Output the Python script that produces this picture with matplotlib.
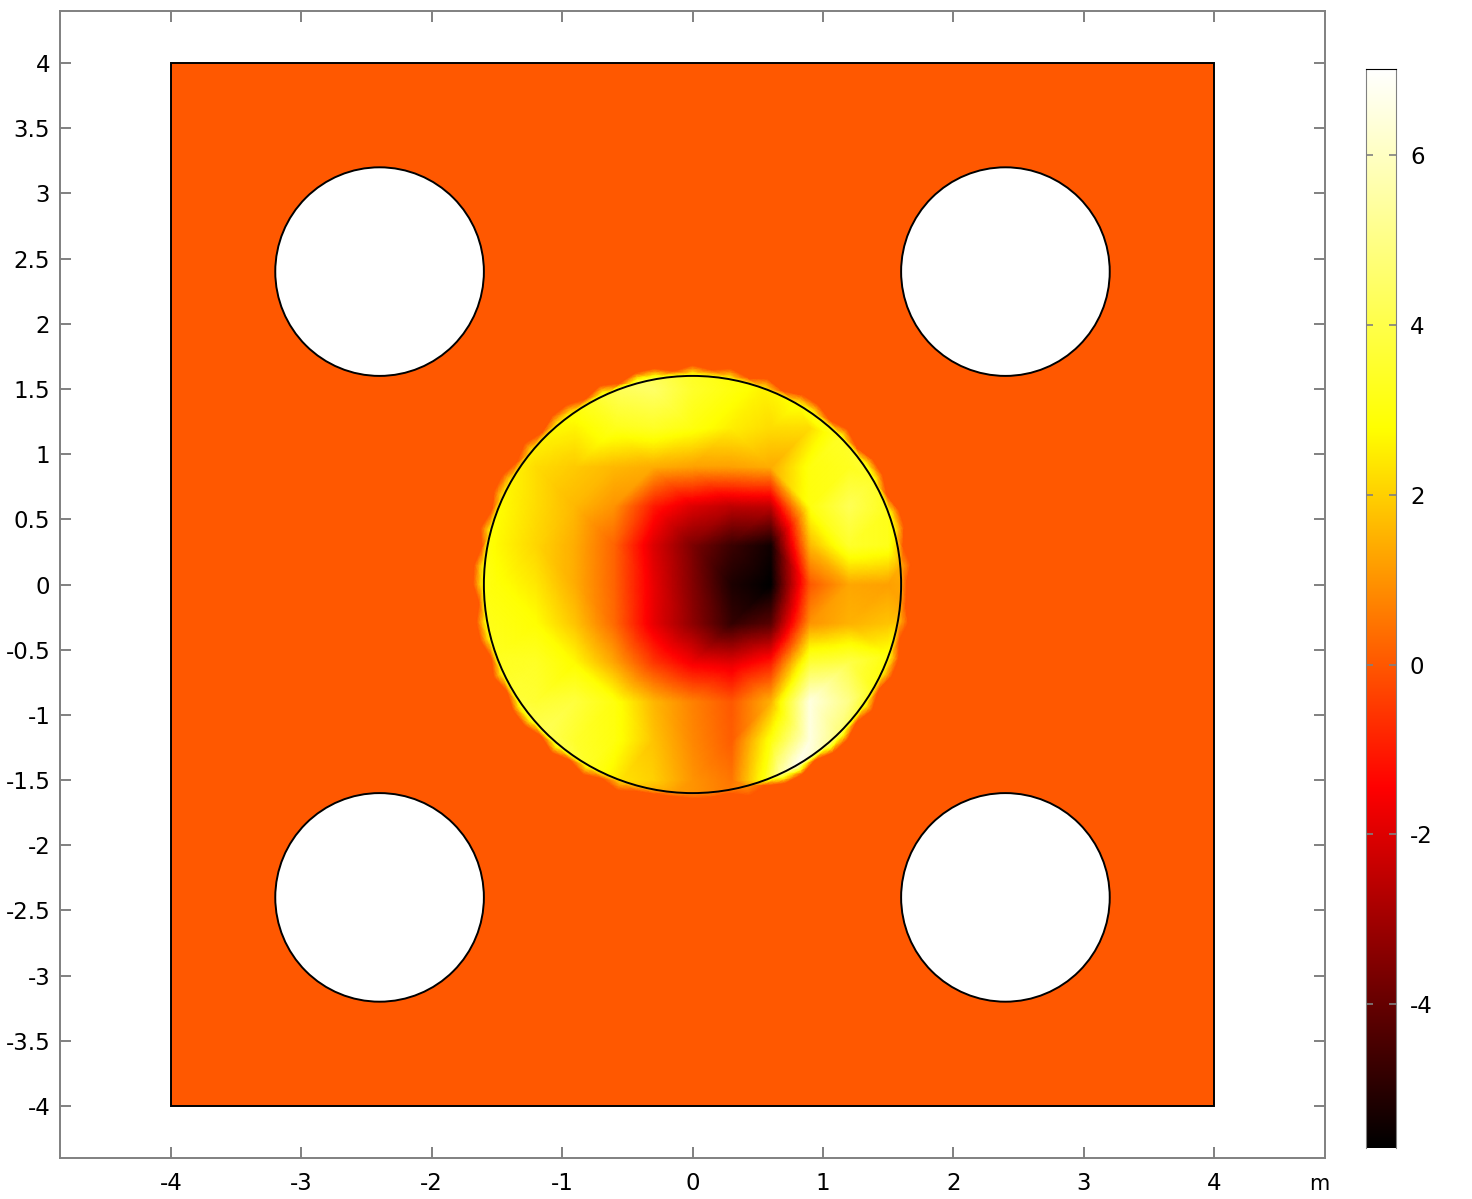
import numpy as np
import matplotlib
matplotlib.use("Agg")
import matplotlib.pyplot as plt
import matplotlib.tri as mtri
from matplotlib.colors import LinearSegmentedColormap, Normalize
from matplotlib.patches import Circle, Rectangle

plt.rcParams['font.family'] = 'DejaVu Sans'
plt.rcParams['axes.unicode_minus'] = False

vmin = -5.69
vmax = 7.01
grey = '#808080'

x_ticks = [-4, -3, -2, -1, 0, 1, 2, 3, 4]
y_ticks = [-4, -3.5, -3, -2.5, -2, -1.5, -1, -0.5, 0, 0.5, 1, 1.5, 2, 2.5, 3, 3.5, 4]
y_labels = ['-4', '-3.5', '-3', '-2.5', '-2', '-1.5', '-1', '-0.5', '0', '0.5', '1', '1.5', '2', '2.5', '3', '3.5', '4']
cbar_ticks = [-4, -2, 0, 2, 4, 6]

hole_x = [-2.4, 2.4, -2.4, 2.4]
hole_y = [2.4, 2.4, -2.4, -2.4]
hole_r = 0.8
disc_r = 1.6

grid_x = [-1.5, -1.2, -0.9, -0.6, -0.3, 0, 0.3, 0.6, 0.9, 1.2, 1.5]
grid_y = [1.5, 1.2, 0.9, 0.6, 0.3, 0, -0.3, -0.6, -0.9, -1.2, -1.5]
n = np.nan
field = [
    [n, n, n, n, 4.5, 3.5, 3.0, n, n, n, n],
    [n, n, 2.6, 3.2, 3.4, 3.0, 2.5, 2.2, 2.2, n, n],
    [n, 2.2, 1.9, 1.6, 1.4, 1.2, 1.2, 1.4, 3.0, 3.3, n],
    [n, 2.2, 1.6, 1.0, -1.0, -2.0, -2.5, -2.5, 3.0, 4.2, n],
    [2.7, 2.1, 1.4, 0.2, -2.0, -3.6, -4.7, -5.4, 1.6, 3.5, 3.2],
    [2.9, 2.4, 1.4, 0.2, -1.8, -3.5, -5.2, -5.69, 0.0, 1.3, 1.2],
    [3.1, 2.8, 1.8, 0.3, -1.8, -3.3, -4.8, -4.2, 1.0, 1.5, 1.8],
    [n, 3.4, 2.7, 1.3, -0.5, -1.6, -1.9, -1.0, 3.7, 4.0, n],
    [n, 3.6, 3.8, 3.0, 1.6, 0.7, 0.0, 1.5, 6.5, 5.0, n],
    [n, n, 3.5, 3.0, 1.8, 0.8, 0.1, 3.0, 6.5, n, n],
    [n, n, n, n, 2.0, 1.0, 0.5, n, n, n, n],
]

# values on the disc edge, every 5 degrees from +x counterclockwise
edge_values = [1.3, 1.5, 2.0, 2.8, 3.2, 3.4, 3.5, 3.6, 3.5, 3.4, 3.3, 3.2,
               2.9, 2.7, 2.6, 2.8, 3.0, 3.2, 3.4, 3.8, 4.2, 4.5, 4.3, 3.8,
               3.3, 2.9, 2.7, 2.6, 2.5, 2.5, 2.6, 2.7, 2.8, 2.9, 3.0, 3.1,
               3.1, 3.1, 3.2, 3.2, 3.3, 3.4, 3.6, 3.8, 4.0, 4.2, 4.1, 3.8,
               3.4, 2.9, 2.3, 1.9, 1.5, 1.2, 1.0, 0.8, 0.6, 1.0, 3.0, 5.5,
               6.7, 6.3, 5.5, 4.8, 4.2, 3.6, 3.2, 3.0, 3.0, 2.6, 1.8, 1.3]

# jagged outer rim of the coloured band, every 5 degrees
rim_radius = [1.64, 1.68, 1.64, 1.68, 1.68, 1.64, 1.68, 1.68, 1.64, 1.68, 1.64, 1.68,
              1.68, 1.64, 1.68, 1.64, 1.68, 1.65, 1.68, 1.64, 1.68, 1.68, 1.64, 1.68,
              1.64, 1.68, 1.68, 1.64, 1.68, 1.64, 1.68, 1.68, 1.64, 1.68, 1.64, 1.68,
              1.68, 1.64, 1.68, 1.68, 1.64, 1.68, 1.64, 1.68, 1.68, 1.64, 1.68, 1.64,
              1.68, 1.64, 1.68, 1.64, 1.63, 1.63, 1.64, 1.64, 1.63, 1.68, 1.64, 1.68,
              1.68, 1.64, 1.68, 1.68, 1.64, 1.68, 1.64, 1.68, 1.68, 1.64, 1.68, 1.64]

cmap = LinearSegmentedColormap.from_list('thermal', ['#000000', '#ff0000', '#ffff00', '#ffffff'], N=512)
norm = Normalize(vmin, vmax)

fig = plt.figure(figsize=(14.72, 11.99), dpi=100)
W, H = 1472.0, 1199.0
ax = fig.add_axes([60 / W, 1 - 1158 / H, 1265 / W, 1147 / H])
ax.set_xlim(-4.851, 4.851)
ax.set_ylim(-4.399, 4.399)

# square plate at value 0
ax.add_patch(Rectangle((-4, -4), 8, 8, facecolor=cmap(norm(0)), edgecolor='black', lw=1.4, zorder=1))

# disc mesh: grid points + edge ring + jagged rim at 0
gx, gy = np.meshgrid(grid_x, grid_y)
gz = np.array(field)
keep = ~np.isnan(gz)
ring_t = np.deg2rad(np.arange(0, 360, 5))
px = np.concatenate([gx[keep], disc_r * np.cos(ring_t), np.array(rim_radius) * np.cos(ring_t)])
py = np.concatenate([gy[keep], disc_r * np.sin(ring_t), np.array(rim_radius) * np.sin(ring_t)])
pz = np.concatenate([gz[keep], edge_values, np.zeros(len(ring_t))])

tri = mtri.Triangulation(px, py)
refiner = mtri.UniformTriRefiner(tri)
fine_tri, fine_z = refiner.refine_field(pz, triinterpolator=mtri.LinearTriInterpolator(tri, pz), subdiv=4)
ax.tripcolor(fine_tri, fine_z, shading='gouraud', cmap=cmap, norm=norm, zorder=2)
ax.add_patch(Circle((0, 0), disc_r, fill=False, edgecolor='black', lw=1.4, zorder=3))

for hx, hy in zip(hole_x, hole_y):
    ax.add_patch(Circle((hx, hy), hole_r, facecolor='white', edgecolor='black', lw=1.4, zorder=3))

ax.set_xticks(x_ticks)
ax.set_xticklabels([str(v) for v in x_ticks])
ax.set_yticks(y_ticks)
ax.set_yticklabels(y_labels)
ax.tick_params(axis='both', direction='in', length=8, width=1.4, color=grey, labelsize=16.5,
               top=True, right=True, pad=7)
ax.tick_params(axis='x', pad=10)
for s in ax.spines.values():
    s.set_color(grey)
    s.set_linewidth(1.4)
fig.text(1319 / W, 1 - 1184 / H, 'm', ha='center', va='center', fontsize=15)

# colour bar
cax = fig.add_axes([1366 / W, 1 - 1148 / H, 30 / W, 1079 / H])
cvals = np.linspace(vmax, vmin, 512).reshape(-1, 1)
cax.imshow(cvals, cmap=cmap, norm=norm, aspect='auto', extent=[0, 1, vmin, vmax], interpolation='bilinear')
cax.set_xticks([])
cax.set_yticks(cbar_ticks)
cax.set_yticklabels([str(v) for v in cbar_ticks])
cax.yaxis.tick_right()
cax.tick_params(axis='y', direction='in', length=5, width=1.2, color=grey, labelsize=16.5,
                left=True, right=True, pad=10)
cax.spines['top'].set_color('black')
cax.spines['bottom'].set_visible(False)
cax.spines['left'].set_color(grey)
cax.spines['right'].set_color(grey)

fig.savefig('out.png', dpi=100)
